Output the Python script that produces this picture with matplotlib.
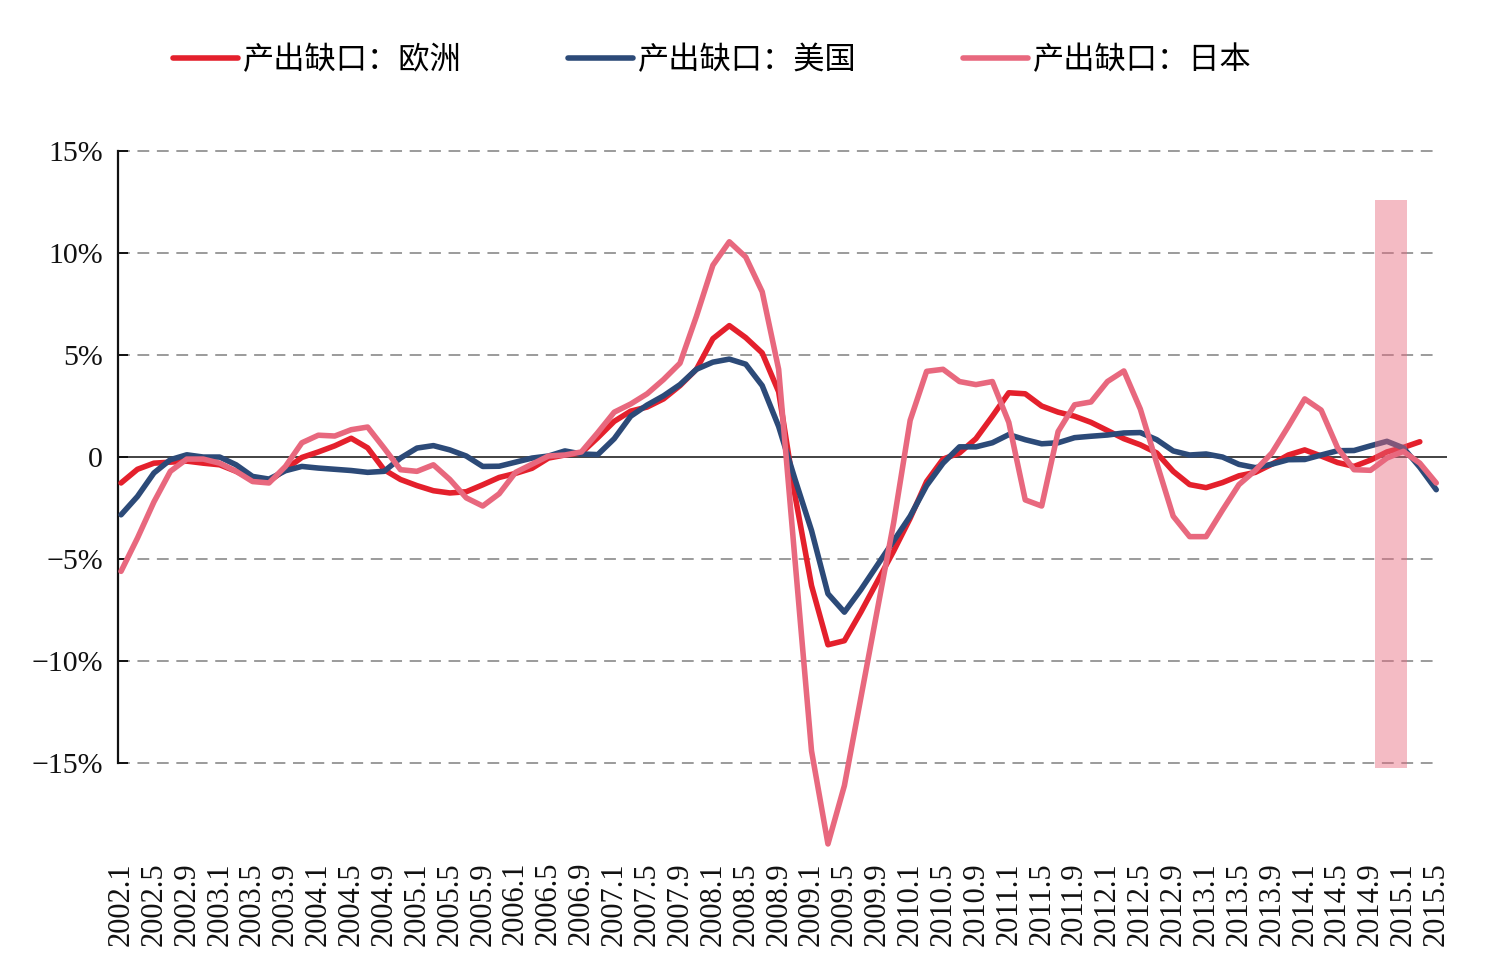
import numpy as np
import matplotlib
matplotlib.use("Agg")
import matplotlib.pyplot as plt

plt.rcParams['font.family'] = ['Liberation Serif', 'Noto Sans CJK SC', 'DejaVu Sans']
plt.rcParams['lines.scale_dashes'] = False

# bimonthly readings, 2002.1 .. 2015.5 (month index 0, 2, ..., 160)
month_idx = np.arange(0, 161, 2)

europe = [-1.27, -0.6, -0.3, -0.25, -0.2, -0.3, -0.38, -0.7, -1.1, -1.2,
          -0.6, -0.02, 0.25, 0.55, 0.92, 0.45, -0.62, -1.1, -1.4, -1.65,
          -1.76, -1.7, -1.36, -1.0, -0.8, -0.55, -0.05, 0.1, 0.2, 0.95,
          1.75, 2.25, 2.45, 2.85, 3.5, 4.3, 5.8, 6.44, 5.85, 5.1,
          3.2, -1.9, -6.3, -9.2, -9.0, -7.6, -6.1, -4.6, -3.0, -1.2,
          -0.1, 0.2, 0.9, 2.0, 3.15, 3.1, 2.5, 2.2, 2.0, 1.7,
          1.3, 0.9, 0.6, 0.2, -0.7, -1.35, -1.5, -1.25, -0.92, -0.75,
          -0.35, 0.1, 0.35, 0.05, -0.27, -0.46, -0.15, 0.25, 0.47, 0.75,
          np.nan]

usa = [-2.83, -1.93, -0.78, -0.13, 0.11, 0.0, 0.0, -0.38, -0.95, -1.08,
       -0.67, -0.46, -0.54, -0.6, -0.66, -0.75, -0.7, -0.05, 0.44, 0.56,
       0.35, 0.05, -0.46, -0.45, -0.25, -0.05, 0.05, 0.3, 0.15, 0.12,
       0.9, 2.0, 2.55, 3.0, 3.55, 4.3, 4.65, 4.8, 4.55, 3.5,
       1.5, -1.1, -3.6, -6.7, -7.6, -6.5, -5.3, -4.1, -2.9, -1.4,
       -0.3, 0.5, 0.5, 0.7, 1.1, 0.85, 0.65, 0.7, 0.95, 1.02,
       1.08, 1.18, 1.2, 0.85, 0.3, 0.1, 0.15, 0.0, -0.36, -0.52,
       -0.35, -0.13, -0.12, 0.1, 0.31, 0.32, 0.55, 0.77, 0.45, -0.5,
       -1.6]

japan = [-5.6, -3.97, -2.2, -0.7, -0.1, -0.1, -0.3, -0.7, -1.2, -1.27,
         -0.46, 0.7, 1.07, 1.03, 1.34, 1.47, 0.44, -0.62, -0.7, -0.38,
         -1.1, -2.0, -2.4, -1.8, -0.75, -0.35, 0.05, 0.1, 0.25, 1.2,
         2.2, 2.6, 3.1, 3.8, 4.6, 6.9, 9.4, 10.55, 9.8, 8.1,
         4.3, -5.1, -14.4, -18.96, -16.1, -11.8, -7.5, -3.2, 1.8, 4.2,
         4.3, 3.7, 3.55, 3.7, 1.7, -2.1, -2.4, 1.25, 2.56, 2.7,
         3.7, 4.22, 2.35, -0.3, -2.9, -3.9, -3.9, -2.6, -1.35, -0.65,
         0.2, 1.5, 2.85, 2.3, 0.45, -0.62, -0.65, -0.05, 0.28, -0.3,
         -1.27]

tick_labels = ['2002.1', '2002.5', '2002.9', '2003.1', '2003.5', '2003.9',
               '2004.1', '2004.5', '2004.9', '2005.1', '2005.5', '2005.9',
               '2006.1', '2006.5', '2006.9', '2007.1', '2007.5', '2007.9',
               '2008.1', '2008.5', '2008.9', '2009.1', '2009.5', '2009.9',
               '2010.1', '2010.5', '2010.9', '2011.1', '2011.5', '2011.9',
               '2012.1', '2012.5', '2012.9', '2013.1', '2013.5', '2013.9',
               '2014.1', '2014.5', '2014.9', '2015.1', '2015.5']
tick_idx = np.arange(0, 161, 4)

y_ticks = [15, 10, 5, 0, -5, -10, -15]
y_labels = ['15%', '10%', '5%', '0', '\u22125%', '\u221210%', '\u221215%']

series_names = ['产出缺口：欧洲', '产出缺口：美国', '产出缺口：日本']
colors = ['#E4202C', '#2C4A78', '#E8687E']

# highlighted window (month index) and its vertical extent
span_x = [152.6, 156.4]
span_y = (-15.25, 12.6)

fig = plt.figure(figsize=(14.96, 9.72), dpi=100)
ax = fig.add_axes([0.0789, 0.1204, 0.8883, 0.7306])

for yv in [15, 10, 5, -5, -10, -15]:
    ax.hlines(yv, -0.365, 160.5, colors='#8a8a8a', linewidth=1.2,
              linestyles=(0, (8.5, 5.5)), zorder=1, clip_on=False)
ax.axhline(0, color='#222222', linewidth=1.2, zorder=1.5)

lines = []
for vals, c, name in zip([europe, usa, japan], colors, series_names):
    l, = ax.plot(month_idx, vals, color=c, linewidth=4.0, label=name,
                 solid_capstyle='round', solid_joinstyle='round', zorder=3)
    lines.append(l)

ax.fill_between(span_x, span_y[0], span_y[1], color='#E8687E', alpha=0.45,
                linewidth=0, zorder=4)

ax.set_xlim(-0.365, 161.3)
ax.set_ylim(-19.5, 15.3)

ax.set_yticks(y_ticks)
ax.set_yticklabels(y_labels, fontsize=21.5)
ax.tick_params(axis='y', direction='in', length=7, width=1.4, pad=11, colors='#111111')

ax.set_xticks(tick_idx)
ax.set_xticklabels(tick_labels, rotation=90, fontsize=22)
ax.tick_params(axis='x', length=0, pad=5, colors='#111111')

for s in ['top', 'right', 'bottom']:
    ax.spines[s].set_visible(False)
ax.spines['left'].set_bounds(-15, 15)
ax.spines['left'].set_linewidth(1.6)
ax.spines['left'].set_color('#111111')

fig.legend(handles=lines, loc='center', bbox_to_anchor=(0.476, 0.937), ncol=3,
           frameon=False, prop={'size': 22.5}, handlelength=2.08,
           handletextpad=0.16, columnspacing=3.4)

fig.savefig('out.png', dpi=100)
